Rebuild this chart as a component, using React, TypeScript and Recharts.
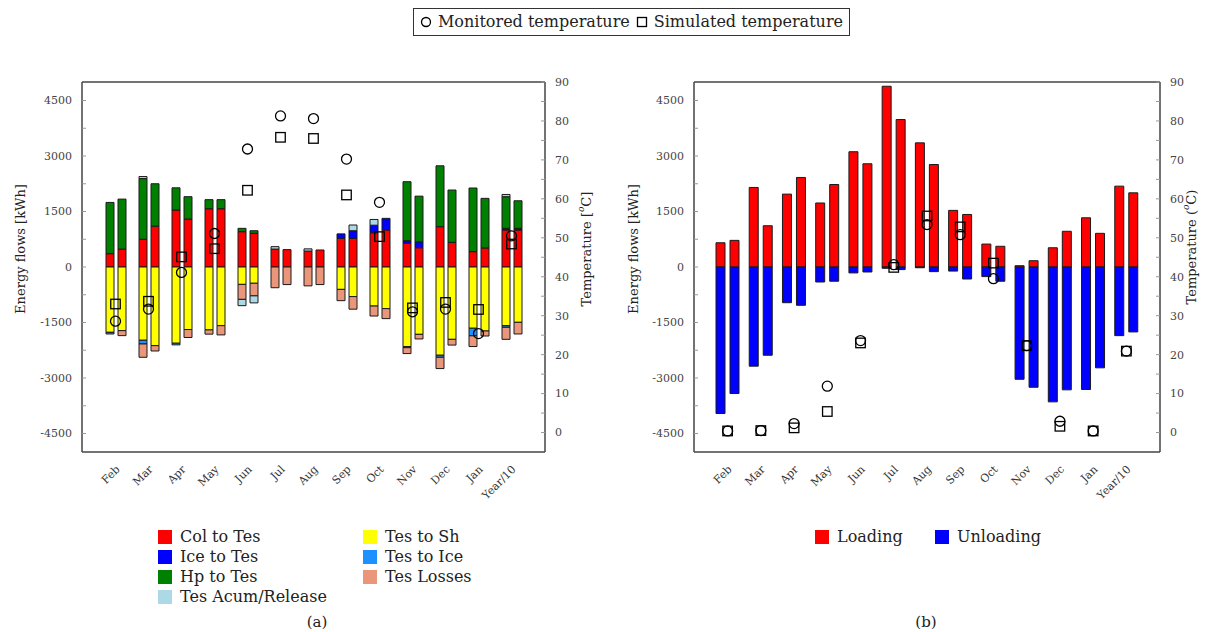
import React from "react";
import { ComposedChart, Bar, Line, XAxis, YAxis, ReferenceLine } from "recharts";

// Months plus the yearly total scaled down by 10
const months = ["Feb", "Mar", "Apr", "May", "Jun", "Jul", "Aug", "Sep", "Oct", "Nov", "Dec", "Jan", "Year/10"];

// (a) energy balance of the TES, kWh — monitored (first bar) and simulated (second bar)
const colToTesMon = [360, 750, 1540, 1575, 955, 485, 430, 775, 925, 640, 1090, 415, 1000];
const colToTesSim = [485, 1105, 1295, 1575, 910, 470, 460, 775, 1000, 520, 665, 515, 1000];
const iceToTesMon = [0, 0, 0, 0, 0, 0, 0, 120, 205, 70, 0, 0, 45];
const iceToTesSim = [0, 0, 0, 0, 0, 0, 0, 205, 315, 160, 0, 0, 45];
const hpToTesMon = [1385, 1640, 600, 245, 90, 0, 0, 0, 0, 1595, 1645, 1720, 855];
const hpToTesSim = [1350, 1145, 605, 245, 70, 0, 0, 0, 0, 1235, 1415, 1340, 745];
const tesAcumMon = [0, 55, 0, 0, -170, 65, 60, 0, 155, 0, 0, 0, 60];
const tesAcumSim = [0, 0, 0, 0, -190, 0, 0, 155, 0, 0, 0, 0, 0];
const tesToShMon = [-1765, -1980, -2060, -1700, -470, 0, 0, -605, -1055, -2150, -2385, -1655, -1585];
const tesToShSim = [-1720, -2125, -1690, -1585, -440, 0, 0, -800, -1125, -1820, -1955, -1730, -1495];
const tesToIceMon = [-45, -100, -45, 0, 0, 0, 0, 0, 0, -30, -55, -205, -45];
const tesToIceSim = [0, 0, 0, 0, 0, 0, 0, 0, 0, 0, 0, 0, 0];
const tesLossesMon = [0, -360, 0, -115, -405, -560, -510, -305, -270, -160, -305, -290, -325];
const tesLossesSim = [-135, -145, -215, -250, -340, -475, -475, -340, -270, -125, -155, -135, -315];
const tempMonA = [28.6, 31.7, 41.1, 51.1, 72.8, 81.3, 80.6, 70.2, 59.1, 31.0, 31.7, 25.4, 50.5];
const tempSimA = [33.0, 33.7, 45.1, 47.2, 62.2, 75.8, 75.5, 61.0, 50.3, 32.0, 33.4, 31.6, 48.4];

// (b) loading / unloading of the TES, kWh
const loadingMon = [655, 2150, 1970, 1730, 3115, 4885, 3355, 1530, 620, 35, 520, 1330, 2185];
const loadingSim = [720, 1115, 2420, 2230, 2790, 3985, 2770, 1420, 560, 170, 965, 910, 2005];
const unloadingMon = [-3960, -2680, -965, -405, -160, -35, -20, -110, -260, -3035, -3645, -3310, -1855];
const unloadingSim = [-3420, -2385, -1035, -385, -135, -70, -125, -325, -385, -3250, -3320, -2725, -1755];
const tempMonB = [0.4, 0.5, 2.3, 11.9, 23.6, 43.1, 53.4, 50.8, 39.5, 22.3, 2.9, 0.4, 20.9];
const tempSimB = [0.4, 0.5, 1.2, 5.4, 23.0, 42.4, 55.6, 52.8, 43.5, 22.3, 1.6, 0.4, 20.9];

const energyTicks = [-4500, -3750, -3000, -2250, -1500, -750, 0, 750, 1500, 2250, 3000, 3750, 4500];
const tempTicks = [0, 5, 10, 15, 20, 25, 30, 35, 40, 45, 50, 55, 60, 65, 70, 75, 80, 85, 90];

const COL = {
  col: "#ff0000",
  ice: "#0000ff",
  hp: "#008000",
  acum: "#add8e6",
  sh: "#ffff00",
  tesIce: "#1e90ff",
  losses: "#e9967a",
};

const FONT = "'DejaVu Serif', serif";
const BAR_STROKE = "#1a1a1a";

const rowsA = months.map((m, i) => ({
  month: m,
  colM: colToTesMon[i], iceM: iceToTesMon[i], hpM: hpToTesMon[i], shM: tesToShMon[i],
  tiM: tesToIceMon[i], lossM: tesLossesMon[i], acumM: tesAcumMon[i],
  colS: colToTesSim[i], iceS: iceToTesSim[i], hpS: hpToTesSim[i], shS: tesToShSim[i],
  tiS: tesToIceSim[i], lossS: tesLossesSim[i], acumS: tesAcumSim[i],
  tMon: tempMonA[i], tSim: tempSimA[i],
}));

const rowsB = months.map((m, i) => ({
  month: m,
  loadM: loadingMon[i], unloadM: unloadingMon[i],
  loadS: loadingSim[i], unloadS: unloadingSim[i],
  tMon: tempMonB[i], tSim: tempSimB[i],
}));

const circleDot = (p: any) =>
  p.cx == null ? null : (
    <circle key={`c${p.index}`} cx={p.cx} cy={p.cy} r={5} fill="none" stroke="#000" strokeWidth={1.3} />
  );

const squareDot = (p: any) =>
  p.cx == null ? null : (
    <rect key={`s${p.index}`} x={p.cx - 4.75} y={p.cy - 4.75} width={9.5} height={9.5} fill="none" stroke="#000" strokeWidth={1.3} />
  );

const MonthTick = ({ x, y, payload }: any) => (
  <text
    x={x + 5}
    y={y + 18}
    textAnchor="end"
    transform={`rotate(-45, ${x + 5}, ${y + 18})`}
    fontSize={11}
    fontFamily={FONT}
    fill="#333"
  >
    {payload.value}
  </text>
);

const tickStyle = { fontSize: 11, fill: "#444", fontFamily: FONT };
const frame = { stroke: "#444", strokeWidth: 1.5 };

// shared axes for both panels: category months, energy left, temperature right, closed frame
function Axes({ pad }: { pad: number }) {
  return [
    <XAxis
      key="x"
      dataKey="month"
      interval={0}
      tick={<MonthTick />}
      tickLine={false}
      tickSize={0}
      tickMargin={0}
      height={60}
      padding={{ left: pad, right: pad }}
      axisLine={frame}
    />,
    <YAxis
      key="y"
      yAxisId="e"
      width={50}
      domain={[-5000, 5000]}
      ticks={energyTicks}
      interval={0}
      tickSize={-4}
      tickMargin={14}
      tick={tickStyle}
      tickLine={{ stroke: "#999" }}
      axisLine={frame}
      tickFormatter={(v: number) => (v % 1500 === 0 ? String(v) : "")}
      allowDataOverflow
    />,
    <YAxis
      key="t"
      yAxisId="t"
      orientation="right"
      width={45}
      domain={[-5, 90]}
      ticks={tempTicks}
      interval={0}
      tickSize={-4}
      tickMargin={14}
      tick={tickStyle}
      tickLine={{ stroke: "#999" }}
      axisLine={frame}
      tickFormatter={(v: number) => (v % 10 === 0 ? String(v) : "")}
      allowDataOverflow
    />,
    // top edge of the frame
    <ReferenceLine key="top" yAxisId="e" y={5000} stroke="#444" strokeWidth={1.5} />,
  ];
}

function tempMarkers() {
  return [
    <Line key="tm" yAxisId="t" dataKey="tMon" stroke="none" dot={circleDot} activeDot={false} isAnimationActive={false} />,
    <Line key="ts" yAxisId="t" dataKey="tSim" stroke="none" dot={squareDot} activeDot={false} isAnimationActive={false} />,
  ];
}

function PanelA() {
  const bar = (key: string, stack: string, fill: string) => (
    <Bar key={key} yAxisId="e" dataKey={key} stackId={stack} fill={fill} stroke={BAR_STROKE} strokeWidth={1} isAnimationActive={false} />
  );
  return (
    <ComposedChart
      width={600}
      height={632}
      data={rowsA}
      stackOffset="sign"
      barSize={8}
      barGap={4}
      margin={{ top: 82, right: 10, bottom: 120, left: 32 }}
    >
      {Axes({ pad: 17 })}
      {bar("colM", "m", COL.col)}
      {bar("iceM", "m", COL.ice)}
      {bar("hpM", "m", COL.hp)}
      {bar("shM", "m", COL.sh)}
      {bar("tiM", "m", COL.tesIce)}
      {bar("lossM", "m", COL.losses)}
      {bar("acumM", "m", COL.acum)}
      {bar("colS", "s", COL.col)}
      {bar("iceS", "s", COL.ice)}
      {bar("hpS", "s", COL.hp)}
      {bar("shS", "s", COL.sh)}
      {bar("tiS", "s", COL.tesIce)}
      {bar("lossS", "s", COL.losses)}
      {bar("acumS", "s", COL.acum)}
      {tempMarkers()}
    </ComposedChart>
  );
}

function PanelB() {
  const bar = (key: string, stack: string, fill: string) => (
    <Bar key={key} yAxisId="e" dataKey={key} stackId={stack} fill={fill} stroke={BAR_STROKE} strokeWidth={1} isAnimationActive={false} />
  );
  return (
    <ComposedChart
      width={606}
      height={632}
      data={rowsB}
      stackOffset="sign"
      barSize={9}
      barGap={5}
      margin={{ top: 82, right: 6, bottom: 120, left: 39 }}
    >
      {Axes({ pad: 17 })}
      {bar("loadM", "m", COL.col)}
      {bar("unloadM", "m", COL.ice)}
      {bar("loadS", "s", COL.col)}
      {bar("unloadS", "s", COL.ice)}
      {tempMarkers()}
    </ComposedChart>
  );
}

const legendA = [
  { name: "Col to Tes", color: COL.col, col: 0, row: 0 },
  { name: "Ice to Tes", color: COL.ice, col: 0, row: 1 },
  { name: "Hp to Tes", color: COL.hp, col: 0, row: 2 },
  { name: "Tes Acum/Release", color: COL.acum, col: 0, row: 3 },
  { name: "Tes to Sh", color: COL.sh, col: 1, row: 0 },
  { name: "Tes to Ice", color: COL.tesIce, col: 1, row: 1 },
  { name: "Tes Losses", color: COL.losses, col: 1, row: 2 },
];

const legendB = [
  { name: "Loading", color: COL.col, x: 815 },
  { name: "Unloading", color: COL.ice, x: 935 },
];

const textStyle: React.CSSProperties = { fontFamily: FONT, fontSize: 16, color: "#222", lineHeight: "16px", whiteSpace: "nowrap" };

function Swatch({ color }: { color: string }) {
  return <span style={{ display: "inline-block", width: 14, height: 14, background: color, marginRight: 8, verticalAlign: -2 }} />;
}

export default function App() {
  return (
    <div style={{ position: "absolute", left: 0, top: 0, width: 1211, height: 632, background: "#fff", fontFamily: FONT }}>
      <div style={{ position: "absolute", left: 0, top: 0 }}>
        <PanelA />
      </div>
      <div style={{ position: "absolute", left: 605, top: 0 }}>
        <PanelB />
      </div>

      {/* axis titles */}
      <svg width={1211} height={632} style={{ position: "absolute", left: 0, top: 0, pointerEvents: "none" }}>
        <text x={20} y={249} transform="rotate(-90, 20, 249)" textAnchor="middle" dominantBaseline="central" fontSize={13} fontFamily={FONT} fill="#222">
          Energy flows [kWh]
        </text>
        <text x={586} y={249} transform="rotate(-90, 586, 249)" textAnchor="middle" dominantBaseline="central" fontSize={13} fontFamily={FONT} fill="#222">
          Temperature [<tspan dy={-5} fontSize={9} fontStyle="italic">o</tspan><tspan dy={5}>C]</tspan>
        </text>
        <text x={633} y={249} transform="rotate(-90, 633, 249)" textAnchor="middle" dominantBaseline="central" fontSize={13} fontFamily={FONT} fill="#222">
          Energy flows [kWh]
        </text>
        <text x={1191} y={247} transform="rotate(-90, 1191, 247)" textAnchor="middle" dominantBaseline="central" fontSize={13} fontFamily={FONT} fill="#222">
          Temperature (<tspan dy={-5} fontSize={9} fontStyle="italic">o</tspan><tspan dy={5}>C)</tspan>
        </text>
      </svg>

      {/* series legend for the temperature markers */}
      <div
        style={{
          position: "absolute", left: 413, top: 8, width: 437, height: 28, boxSizing: "border-box",
          border: "1.5px solid #333", display: "flex", alignItems: "center", justifyContent: "center", gap: 6, ...textStyle,
        }}
      >
        <svg width={12} height={12}><circle cx={6} cy={6} r={4.5} fill="none" stroke="#000" strokeWidth={1.3} /></svg>
        <span>Monitored temperature</span>
        <svg width={12} height={12}><rect x={1.5} y={1.5} width={9} height={9} fill="none" stroke="#000" strokeWidth={1.3} /></svg>
        <span>Simulated temperature</span>
      </div>

      {legendA.map((l) => (
        <div key={l.name} style={{ position: "absolute", left: l.col === 0 ? 158 : 363, top: 529 + l.row * 20, ...textStyle }}>
          <Swatch color={l.color} />
          {l.name}
        </div>
      ))}
      {legendB.map((l) => (
        <div key={l.name} style={{ position: "absolute", left: l.x, top: 529, ...textStyle }}>
          <Swatch color={l.color} />
          {l.name}
        </div>
      ))}

      <div style={{ position: "absolute", left: 300, top: 614, width: 34, textAlign: "center", ...textStyle, fontSize: 15 }}>(a)</div>
      <div style={{ position: "absolute", left: 909, top: 614, width: 34, textAlign: "center", ...textStyle, fontSize: 15 }}>(b)</div>
    </div>
  );
}
